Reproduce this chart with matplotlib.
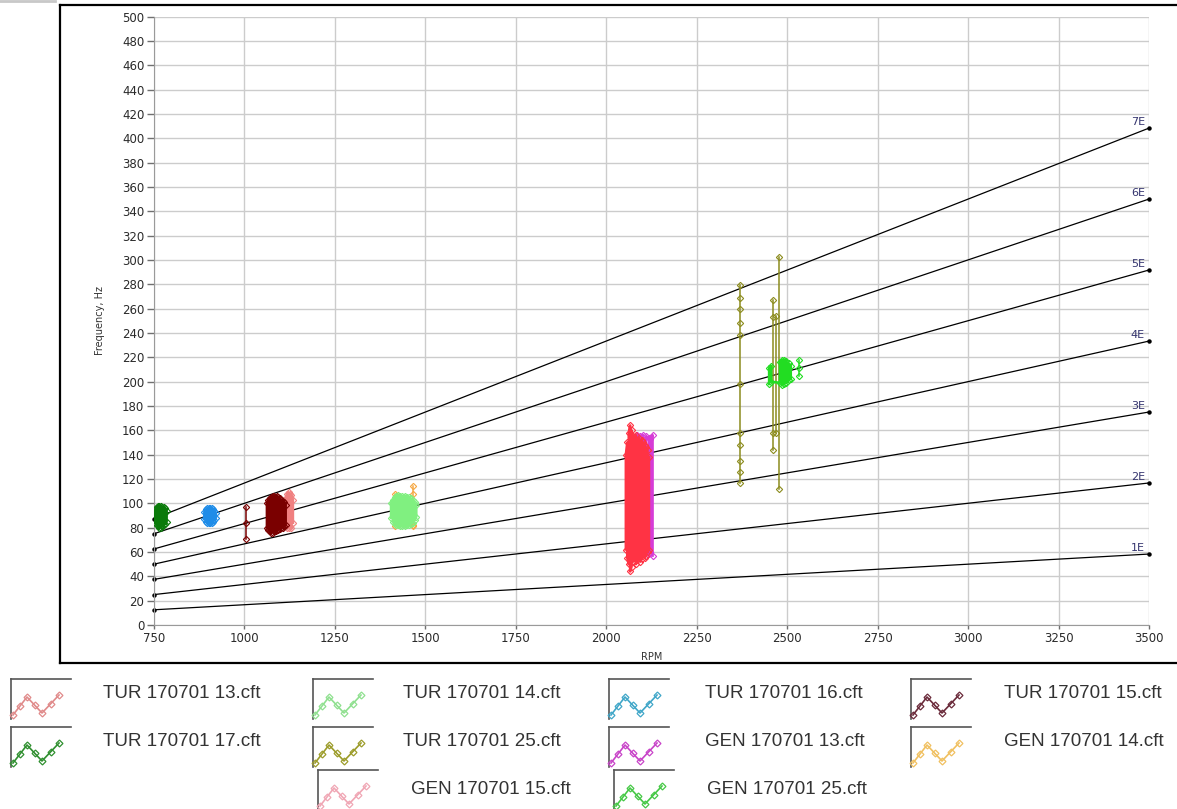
import matplotlib

matplotlib.use("Agg")
import matplotlib.pyplot as plt

W, H = 1177, 809

# axis ticks
RPM_TICKS = [750, 1000, 1250, 1500, 1750, 2000, 2250, 2500, 2750, 3000, 3250, 3500]
HZ_TICKS = list(range(0, 501, 20))

# engine order lines (start / end frequency at 750 and 3500 rpm)
ORDER_LABELS = ["1E", "2E", "3E", "4E", "5E", "6E", "7E"]
ORDER_RPM = [750, 3500]
ORDER_HZ_START = [12.5, 25.0, 37.5, 50.0, 62.5, 75.0, 87.5]
ORDER_HZ_END = [58.3, 116.7, 175.0, 233.3, 291.7, 350.0, 408.3]

# measured clusters: rpm, lowest and highest frequency of each sweep
TUR17_RPM = [753, 757, 761, 765, 769, 773, 777, 781, 785]
TUR17_LO = [84, 82, 81, 80, 80, 81, 82, 83, 85]
TUR17_HI = [95, 97, 98, 98, 98, 97, 97, 96, 94]

TUR16_RPM = [889, 893, 897, 901, 905, 909, 913, 917, 921]
TUR16_LO = [87, 85, 84, 84, 84, 84, 85, 86, 88]
TUR16_HI = [93, 95, 96, 96, 96, 96, 95, 94, 92]

TUR15_RPM = [1062, 1066, 1070, 1074, 1078, 1082, 1086, 1090, 1094, 1098, 1102, 1106, 1110, 1114]
TUR15_LO = [80, 78, 77, 76, 76, 77, 77, 78, 78, 79, 80, 80, 81, 82]
TUR15_HI = [100, 103, 104, 105, 106, 106, 105, 106, 105, 104, 103, 102, 101, 99]
TUR15_LINE_RPM = 1005
TUR15_LINE_HZ = [97, 84, 71]

TUR13_RPM = [1114, 1118, 1122, 1126, 1130, 1134]
TUR13_LO = [82, 80, 80, 81, 80, 84]
TUR13_HI = [104, 108, 109, 108, 107, 103]

TUR14_RPM = [1405, 1410, 1415, 1420, 1425, 1430, 1435, 1440, 1445, 1450, 1455, 1460, 1465, 1470, 1475]
TUR14_LO = [88, 85, 83, 82, 82, 81, 81, 82, 81, 82, 82, 83, 84, 86, 89]
TUR14_HI = [100, 103, 105, 106, 107, 106, 106, 105, 106, 105, 105, 104, 103, 101, 99]

GEN14_RPM = [1415, 1465]
GEN14_HZ = [[108, 95, 81], [114, 108, 82, 81]]

GEN15_RPM = [2054, 2058, 2062, 2066, 2070, 2074, 2078, 2082, 2086, 2090, 2094, 2098, 2102, 2106, 2110, 2114, 2118]
GEN15_LO = [62, 55, 50, 44, 48, 52, 55, 50, 53, 56, 52, 54, 58, 55, 57, 60, 62]
GEN15_HI = [140, 150, 158, 164, 160, 155, 152, 156, 150, 154, 149, 152, 150, 148, 146, 144, 138]

GEN13_RPM = [2078, 2086, 2094, 2102, 2110, 2118, 2122, 2128]
GEN13_LO = [58, 56, 57, 58, 57, 58, 60, 57]
GEN13_HI = [154, 156, 155, 156, 155, 154, 153, 156]

TUR25_RPM = [2370, 2460, 2469, 2477]
TUR25_HZ = [
    [279, 269, 260, 248, 238, 198, 158, 148, 135, 126, 117],
    [267, 253, 158, 144],
    [254, 158],
    [302, 112],
]

GEN25_RPM = [2450, 2456, 2480, 2486, 2492, 2498, 2504, 2510]
GEN25_LO = [198, 200, 199, 197, 198, 199, 201, 202]
GEN25_HI = [211, 213, 216, 218, 218, 217, 215, 213]
GEN25_BAR_RPM = 2534
GEN25_BAR_HZ = [218, 211, 205]

LEGEND_NAMES = [
    "TUR 170701 13.cft", "TUR 170701 14.cft", "TUR 170701 16.cft", "TUR 170701 15.cft",
    "TUR 170701 17.cft", "TUR 170701 25.cft", "GEN 170701 13.cft", "GEN 170701 14.cft",
    "GEN 170701 15.cft", "GEN 170701 25.cft",
]
LEGEND_COLORS = [
    "#e08a8a", "#8fe08f", "#3fa6c8", "#6a2a3a", "#2f8f2f",
    "#9c9c2a", "#c843c8", "#f0c060", "#f0a6b4", "#45c845",
]
ICON_X = [2, 9, 16, 23.5, 31, 39.5, 48]
ICON_Y = [36, 27, 18, 26, 34, 25, 16]

C = {
    "TUR13": "#f08080", "TUR14": "#80f080", "TUR16": "#1e8ce8", "TUR15": "#7a0000",
    "TUR17": "#0a7a0a", "TUR25": "#8c8c1e", "GEN13": "#d63cd6", "GEN14": "#f5a742",
    "GEN15": "#ff3344", "GEN25": "#22dd22",
}


def snake(rpm, lo, hi):
    xs, ys = [], []
    for i, (r, a, b) in enumerate(zip(rpm, lo, hi)):
        xs += [r, r]
        ys += [a, b] if i % 2 == 0 else [b, a]
    return xs, ys


def blob(ax, rpm, lo, hi, color, z):
    xs, ys = snake(rpm, lo, hi)
    ax.plot(xs, ys, color=color, lw=1.8, marker="D", ms=3.2, mfc="none", mew=0.8, zorder=z)


def sweep(ax, r, hz, color, z):
    ax.plot([r] * len(hz), hz, color=color, lw=1.1, marker="D", ms=3.2, mfc="none", mew=0.8, zorder=z)


fig = plt.figure(figsize=(W / 100, H / 100), dpi=100)

# layout layer in pixel coordinates
lay = fig.add_axes([0, 0, 1, 1], zorder=-1)
lay.set_xlim(0, W)
lay.set_ylim(H, 0)
lay.axis("off")
lay.plot([0, 55], [1, 1], color="#c8c8c8", lw=2)
lay.plot([60, W], [5, 5], color="black", lw=1.6)
lay.plot([60, 60], [5, 663], color="black", lw=1.6)
lay.plot([60, W], [663, 663], color="black", lw=1.6)

ax = fig.add_axes([154 / W, 1 - 625 / H, (1149 - 154) / W, (625 - 16.5) / H])
ax.set_xlim(750, 3500)
ax.set_ylim(0, 500)
ax.set_xticks(RPM_TICKS)
ax.set_yticks(HZ_TICKS)
ax.grid(True, color="#cccccc", lw=1)
ax.set_axisbelow(True)
for side in ["top", "right"]:
    ax.spines[side].set_visible(False)
for side in ["left", "bottom"]:
    ax.spines[side].set_color("#9a9a9a")
ax.tick_params(axis="y", length=5, width=1, color="#707070", labelsize=8.5, labelcolor="#2a2a2a", pad=2)
ax.tick_params(axis="x", length=3, width=1, color="#707070", labelsize=8.5, labelcolor="#2a2a2a", pad=2)
ax.set_xlabel("RPM", fontsize=7, color="#333333", labelpad=5)
ax.set_ylabel("Frequency, Hz", fontsize=7, color="#333333", labelpad=12)

# order lines
for lab, h0, h1 in zip(ORDER_LABELS, ORDER_HZ_START, ORDER_HZ_END):
    ax.plot(ORDER_RPM, [h0, h1], color="black", lw=0.9, marker="o", ms=2.2, zorder=2, clip_on=False)
    ax.annotate(lab, xy=(ORDER_RPM[1], h1), xytext=(-3, 1), textcoords="offset points",
                ha="right", va="bottom", fontsize=8, color="#34346e")

# measured data
sweep(ax, GEN14_RPM[0], GEN14_HZ[0], C["GEN14"], 3)
sweep(ax, GEN14_RPM[1], GEN14_HZ[1], C["GEN14"], 3)
blob(ax, GEN13_RPM, GEN13_LO, GEN13_HI, C["GEN13"], 3)
blob(ax, TUR17_RPM, TUR17_LO, TUR17_HI, C["TUR17"], 4)
blob(ax, TUR16_RPM, TUR16_LO, TUR16_HI, C["TUR16"], 4)
sweep(ax, TUR15_LINE_RPM, TUR15_LINE_HZ, C["TUR15"], 4)
blob(ax, TUR13_RPM, TUR13_LO, TUR13_HI, C["TUR13"], 4)
blob(ax, TUR15_RPM, TUR15_LO, TUR15_HI, C["TUR15"], 4)
blob(ax, TUR14_RPM, TUR14_LO, TUR14_HI, C["TUR14"], 4)
for r, hz in zip(TUR25_RPM, TUR25_HZ):
    sweep(ax, r, hz, C["TUR25"], 4)
blob(ax, GEN15_RPM, GEN15_LO, GEN15_HI, C["GEN15"], 4)
blob(ax, GEN25_RPM, GEN25_LO, GEN25_HI, C["GEN25"], 5)
sweep(ax, GEN25_BAR_RPM, GEN25_BAR_HZ, C["GEN25"], 5)

# legend: icon left, icon top, text left, text centre
LEG_POS = [
    (11, 679, 103, 693), (313, 679, 403, 693), (609, 679, 705, 693), (911, 679, 1004, 693),
    (11, 727, 103, 742), (313, 727, 403, 742), (609, 727, 705, 742), (911, 727, 1004, 742),
    (318, 770, 411, 789), (614, 770, 707, 789),
]
for name, col, (ix, iy, tx, ty) in zip(LEGEND_NAMES, LEGEND_COLORS, LEG_POS):
    lay.plot([ix, ix + 60], [iy, iy], color="#555555", lw=1.2)
    lay.plot([ix, ix], [iy, iy + 40], color="#555555", lw=1.2)
    lay.plot([ix + dx for dx in ICON_X], [iy + dy for dy in ICON_Y], color=col, lw=1.2,
             marker="D", ms=3.5, mfc="none", mew=0.9)
    lay.text(tx, ty, name, fontsize=13.5, family="Liberation Sans", color="#333333",
             ha="left", va="center")

fig.savefig("out.png", dpi=100)
